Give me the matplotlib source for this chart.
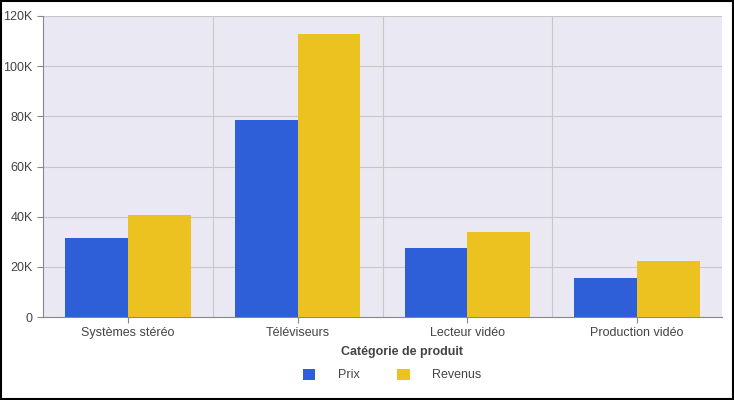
import matplotlib
matplotlib.use("Agg")
import matplotlib.pyplot as plt
import numpy as np

categories = ["Systèmes stéréo", "Téléviseurs", "Lecteur vidéo", "Production vidéo"]
prix = [31500, 78500, 27500, 15500]
revenus = [40700, 113000, 33800, 22300]
yticks = [0, 20000, 40000, 60000, 80000, 100000, 120000]
ytick_labels = ["0", "20K", "40K", "60K", "80K", "100K", "120K"]

plt.rcParams.update({"font.family": "Liberation Sans", "font.size": 9})

fig = plt.figure(figsize=(7.34, 4.0), dpi=100)
fig.patch.set_facecolor("white")
ax = fig.add_axes([43 / 734, 1 - 317 / 400, 679 / 734, 301 / 400])
ax.set_facecolor("#EAE8F2")

x = np.arange(len(categories))
w = 0.37
ax.bar(x - w / 2, prix, w, color="#2F5FD8", label="Prix", zorder=3)
ax.bar(x + w / 2, revenus, w, color="#EBC21F", label="Revenus", zorder=3)

ax.set_xlim(-0.5, len(categories) - 0.5)
ax.set_ylim(0, 120000)
ax.set_yticks(yticks)
ax.set_yticklabels(ytick_labels)
ax.set_xticks(x)
ax.set_xticklabels(categories)
ax.tick_params(colors="#444444", length=4, color="#888888")
for b in x[:-1] + 0.5:
    ax.axvline(b, color="#C8C8C8", linewidth=0.8, zorder=1)
ax.grid(axis="y", color="#C8C8C8", linewidth=0.8, zorder=1)
for s in ["top", "right"]:
    ax.spines[s].set_visible(False)
ax.spines["left"].set_color("#888888")
ax.spines["bottom"].set_color("#888888")

fig.text(402 / 734, 1 - 352 / 400, "Catégorie de produit", fontweight="bold",
         color="#444444", ha="center", va="center")
fig.legend(*ax.get_legend_handles_labels(), loc="center",
           bbox_to_anchor=(392 / 734, 1 - 375 / 400), ncol=2, frameon=False,
           handlelength=1.0, handleheight=1.0, columnspacing=3.0, handletextpad=1.8,
           labelcolor="#444444")

fig.add_artist(plt.Rectangle((0.001, 0.002), 0.997, 0.995, transform=fig.transFigure,
                             fill=False, edgecolor="black", linewidth=1.5))
fig.savefig("out.png", dpi=100)
